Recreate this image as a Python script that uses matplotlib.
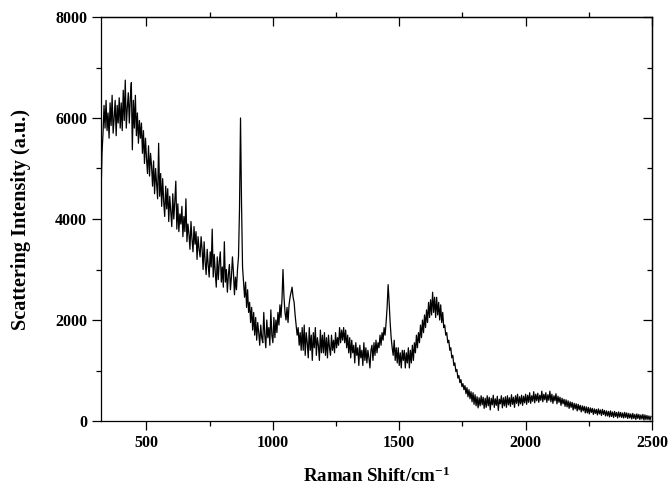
import matplotlib
matplotlib.use("Agg")
import matplotlib.pyplot as plt
import numpy as np
from matplotlib.ticker import MultipleLocator

# Raman shift channels (cm^-1), one every 4 cm^-1
raman_shift = np.arange(320, 2500, 4)

# scattering intensity, 20 values per row (80 cm^-1)
intensity = [
    # 320
    4450, 5300, 5700, 6250, 5800, 6350, 5750, 6100, 5600, 6300,
    5850, 6450, 5700, 6000, 6350, 5650, 6250, 5900, 6400, 5800,
    # 400
    6300, 5750, 6550, 5950, 6750, 5800, 6200, 6500, 5900, 6400,
    6700, 5370, 6350, 5800, 6450, 5650, 6100, 5500, 5950, 5600,
    # 480
    5900, 5300, 5750, 5100, 5600, 5200, 4900, 5450, 4850, 5300,
    5050, 4650, 5150, 4500, 5000, 4700, 4400, 5500, 4450, 4900,
    # 560
    4250, 4800, 4350, 4050, 4650, 4200, 4600, 3950, 4450, 4150,
    3850, 4500, 4000, 4350, 4750, 3800, 4300, 3750, 4100, 3900,
    # 640
    4250, 3650, 4050, 3750, 4400, 3550, 3900, 3700, 3400, 3950,
    3600, 3350, 3850, 3500, 3750, 3200, 3650, 3400, 3250, 3650,
    # 720
    3400, 3000, 3550, 3150, 2900, 3400, 3100, 2850, 3350, 3050,
    3800, 2850, 3300, 2950, 2650, 3250, 2800, 3150, 3350, 2750,
    # 800
    3050, 2650, 3550, 2750, 3000, 2550, 2900, 3100, 2600, 2850,
    3250, 2950, 2500, 2850, 2600, 3000, 3250, 4200, 6000, 4300,
    # 880
    3050, 2750, 2450, 2750, 2250, 2600, 2150, 2350, 1950, 2250,
    1800, 2150, 1700, 2050, 1600, 1950, 1750, 1500, 1900, 1650,
    # 960
    1550, 2150, 1700, 1450, 2000, 1650, 1850, 1500, 2200, 1700,
    1550, 2050, 1650, 2000, 1750, 2150, 1900, 2300, 2050, 2400,
    # 1040
    3000, 2450, 2150, 2000, 2250, 1950, 2300, 2450, 2550, 2650,
    2450, 2350, 2100, 1900, 1700, 1850, 1500, 1750, 1400, 1850,
    # 1120
    1400, 1900, 1300, 1750, 1550, 1250, 1850, 1400, 1700, 1200,
    1750, 1450, 1850, 1300, 1650, 1500, 1200, 1800, 1350, 1700,
    # 1200
    1350, 1750, 1300, 1650, 1250, 1700, 1450, 1300, 1700, 1400,
    1600, 1350, 1750, 1450, 1650, 1500, 1850, 1550, 1800, 1600,
    # 1280
    1850, 1550, 1800, 1450, 1700, 1350, 1650, 1250, 1600, 1350,
    1500, 1150, 1550, 1300, 1450, 1100, 1500, 1250, 1400, 1100,
    # 1360
    1550, 1200, 1450, 1150, 1400, 1250, 1050, 1400, 1500, 1200,
    1550, 1300, 1600, 1350, 1550, 1450, 1700, 1500, 1750, 1600,
    # 1440
    1850, 1700, 1950, 2250, 2700, 2350, 1950, 1650, 1450, 1300,
    1600, 1200, 1450, 1150, 1450, 1100, 1350, 1050, 1400, 1200,
    # 1520
    1400, 1050, 1350, 1150, 1450, 1050, 1400, 1150, 1500, 1200,
    1550, 1350, 1700, 1450, 1750, 1550, 1900, 1650, 2000, 1750,
    # 1600
    2100, 1850, 2200, 1950, 2350, 2050, 2400, 2100, 2550, 2150,
    2450, 2050, 2450, 2100, 2350, 2000, 2300, 1950, 2150, 1850,
    # 1680
    1900, 1700, 1750, 1550, 1600, 1400, 1450, 1250, 1300, 1100,
    1150, 980, 1020, 850, 900, 760, 820, 680, 740, 620,
    # 1760
    700, 540, 660, 480, 620, 440, 580, 380, 560, 330,
    520, 300, 480, 260, 460, 300, 500, 320, 470, 250,
    # 1840
    450, 270, 500, 300, 470, 220, 450, 320, 510, 270,
    440, 310, 490, 210, 430, 340, 500, 260, 460, 300,
    # 1920
    480, 270, 500, 320, 460, 290, 520, 330, 470, 270,
    500, 350, 530, 300, 480, 340, 510, 310, 490, 360,
    # 2000
    530, 330, 510, 370, 560, 350, 500, 390, 580, 360,
    530, 400, 550, 370, 510, 410, 590, 380, 530, 420,
    # 2080
    560, 370, 520, 410, 590, 380, 530, 350, 500, 400,
    540, 340, 490, 370, 470, 310, 450, 340, 430, 290,
    # 2160
    420, 280, 400, 250, 380, 270, 370, 220, 350, 240,
    340, 200, 330, 220, 310, 180, 300, 200, 290, 160,
    # 2240
    280, 160, 270, 140, 260, 170, 250, 130, 240, 150,
    230, 120, 240, 140, 220, 110, 230, 130, 210, 100,
    # 2320
    200, 100, 190, 80, 200, 90, 180, 70, 190, 90,
    170, 60, 180, 80, 170, 70, 160, 60, 170, 70,
    # 2400
    160, 50, 150, 60, 140, 40, 150, 50, 130, 30,
    140, 50, 130, 30, 120, 40, 130, 20, 120, 30,
    # 2480
    110, 30, 100, 20, 90,
]

x_ticks = [500, 1000, 1500, 2000, 2500]
y_ticks = [0, 2000, 4000, 6000, 8000]

plt.rcParams["font.family"] = ["Liberation Serif", "DejaVu Serif"]
plt.rcParams["font.weight"] = "bold"
plt.rcParams["mathtext.fontset"] = "custom"
plt.rcParams["mathtext.rm"] = "Liberation Serif:bold"
plt.rcParams["mathtext.default"] = "rm"

fig = plt.figure(figsize=(6.7, 4.88), dpi=100)
ax = fig.add_axes([101 / 670, 1 - 421 / 488, 551 / 670, 404 / 488])

ax.plot(raman_shift, intensity, color="black", linewidth=0.9)

ax.set_xlim(320, 2500)
ax.set_ylim(0, 8000)
ax.set_xticks(x_ticks)
ax.set_yticks(y_ticks)
ax.xaxis.set_minor_locator(MultipleLocator(250))
ax.yaxis.set_minor_locator(MultipleLocator(1000))

for spine in ax.spines.values():
    spine.set_linewidth(0.9)

ax.tick_params(which="major", direction="out", length=6.5, width=0.9,
               labelsize=11.5)
ax.tick_params(which="minor", direction="out", length=3.4, width=0.9)

top = ax.secondary_xaxis("top")
top.set_xticks(x_ticks)
top.xaxis.set_minor_locator(MultipleLocator(250))
top.tick_params(which="major", direction="in", length=6.5, width=0.9,
                labeltop=False)
top.tick_params(which="minor", direction="out", length=3.4, width=0.9)
top.spines["top"].set_linewidth(0.9)

right = ax.secondary_yaxis("right")
right.set_yticks(y_ticks)
right.yaxis.set_minor_locator(MultipleLocator(1000))
right.tick_params(which="major", direction="in", length=6.5, width=0.9,
                  labelright=False)
right.tick_params(which="minor", direction="in", length=3.4, width=0.9)
right.spines["right"].set_linewidth(0.9)

ax.set_xlabel("Raman Shift/cm$^{-1}$", fontsize=13.6, fontweight="bold",
              labelpad=11)
ax.set_ylabel("Scattering Intensity (a.u.)", fontsize=14.6,
              fontweight="bold", labelpad=17)

fig.savefig("out.png", dpi=100)
